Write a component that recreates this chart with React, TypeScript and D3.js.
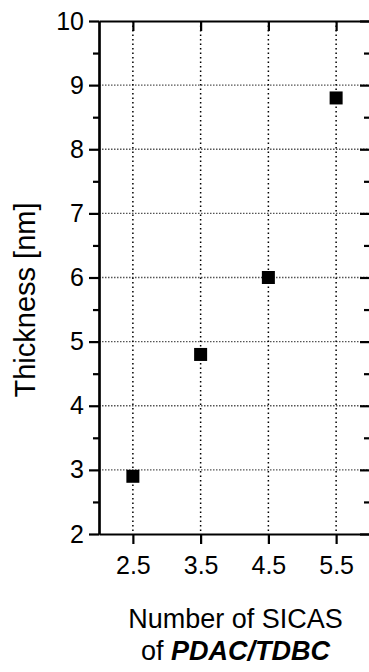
import React, { useEffect, useRef } from 'react';
import * as d3 from 'd3';

// x: number of SICAS, y: thickness in nm
const sicas = [2.5, 3.5, 4.5, 5.5];
const thickness = [2.9, 4.8, 6.0, 8.8];
const yTicks = [2, 3, 4, 5, 6, 7, 8, 9, 10];
const yMinorTicks = [2.5, 3.5, 4.5, 5.5, 6.5, 7.5, 8.5, 9.5];

const App: React.FC = () => {
  const ref = useRef<SVGSVGElement>(null);

  const width = 369;
  const height = 672;
  const plot = { left: 99, right: 370, top: 21, bottom: 534 };
  const font = '"Liberation Sans", Arial, Helvetica, sans-serif';

  useEffect(() => {
    const svgEl = ref.current;
    if (!svgEl) return;
    const svg = d3.select(svgEl);
    svg.selectAll('*').remove();

    const x = d3.scaleLinear().domain([2, 6]).range([plot.left, plot.right]);
    const y = d3.scaleLinear().domain([2, 10]).range([plot.bottom, plot.top]);

    // 网格线
    const grid = svg.append('g');
    grid
      .selectAll('line.h')
      .data(yTicks.filter((d) => d > 2 && d < 10))
      .enter()
      .append('line')
      .attr('x1', plot.left)
      .attr('x2', plot.right)
      .attr('y1', (d) => y(d))
      .attr('y2', (d) => y(d))
      .attr('stroke', '#555')
      .attr('stroke-width', 1.3)
      .attr('stroke-dasharray', '1.5,1.5');
    grid
      .selectAll('line.v')
      .data(sicas)
      .enter()
      .append('line')
      .attr('x1', (d) => x(d))
      .attr('x2', (d) => x(d))
      .attr('y1', plot.top)
      .attr('y2', plot.bottom)
      .attr('stroke', '#000')
      .attr('stroke-width', 1.5)
      .attr('stroke-dasharray', '1.5,3');

    const style = (g: d3.Selection<SVGGElement, unknown, null, undefined>) => {
      g.selectAll('path.domain').attr('stroke', '#000').attr('stroke-width', 2.2);
      g.selectAll('.tick line').attr('stroke', '#000').attr('stroke-width', 2.2);
      g.selectAll('text')
        .attr('font-family', font)
        .attr('font-size', 25)
        .attr('fill', '#000');
    };

    // 左轴
    svg
      .append('g')
      .attr('transform', `translate(${plot.left},0)`)
      .call(d3.axisLeft(y).tickValues(yTicks).tickSize(10).tickSizeOuter(0).tickPadding(5).tickFormat(d3.format('d')))
      .call(style);
    svg
      .append('g')
      .attr('transform', `translate(${plot.left},0)`)
      .call(d3.axisLeft(y).tickValues(yMinorTicks).tickSize(6).tickSizeOuter(0).tickFormat(() => ''))
      .call(style);

    // 右轴
    svg
      .append('g')
      .attr('transform', `translate(${plot.right},0)`)
      .call(d3.axisRight(y).tickValues(yTicks).tickSize(-10).tickSizeOuter(0).tickFormat(() => ''))
      .call(style);
    svg
      .append('g')
      .attr('transform', `translate(${plot.right},0)`)
      .call(d3.axisRight(y).tickValues(yMinorTicks).tickSize(-6).tickSizeOuter(0).tickFormat(() => ''))
      .call(style);

    // 底轴
    svg
      .append('g')
      .attr('transform', `translate(0,${plot.bottom})`)
      .call(d3.axisBottom(x).tickValues(sicas).tickSize(10).tickSizeOuter(0).tickPadding(12).tickFormat(d3.format('.1f')))
      .call(style);

    // 顶轴
    svg
      .append('g')
      .attr('transform', `translate(0,${plot.top})`)
      .call(d3.axisTop(x).tickValues(sicas).tickSize(-10).tickSizeOuter(0).tickFormat(() => ''))
      .call(style);

    // 数据点
    const s = 13;
    svg
      .append('g')
      .selectAll('rect')
      .data(sicas.map((d, i) => [d, thickness[i]] as [number, number]))
      .enter()
      .append('rect')
      .attr('x', (d) => x(d[0]) - s / 2)
      .attr('y', (d) => y(d[1]) - s / 2)
      .attr('width', s)
      .attr('height', s)
      .attr('fill', '#000');

    // 轴标题
    svg
      .append('text')
      .attr('transform', 'translate(35,300) rotate(-90)')
      .attr('text-anchor', 'middle')
      .attr('font-family', font)
      .attr('font-size', 29)
      .text('Thickness [nm]');

    const cx = (plot.left + plot.right) / 2 + 1;
    svg
      .append('text')
      .attr('x', cx)
      .attr('y', 628)
      .attr('text-anchor', 'middle')
      .attr('font-family', font)
      .attr('font-size', 27)
      .text('Number of SICAS');
    const t2 = svg
      .append('text')
      .attr('x', cx)
      .attr('y', 660)
      .attr('text-anchor', 'middle')
      .attr('font-family', font)
      .attr('font-size', 27);
    t2.append('tspan').text('of ');
    t2.append('tspan').attr('font-weight', 'bold').attr('font-style', 'italic').text('PDAC/TDBC');
  }, []);

  return (
    <svg
      ref={ref}
      width={width}
      height={height}
      style={{ position: 'absolute', left: 0, top: 0, background: '#fff' }}
    />
  );
};

export default App;
